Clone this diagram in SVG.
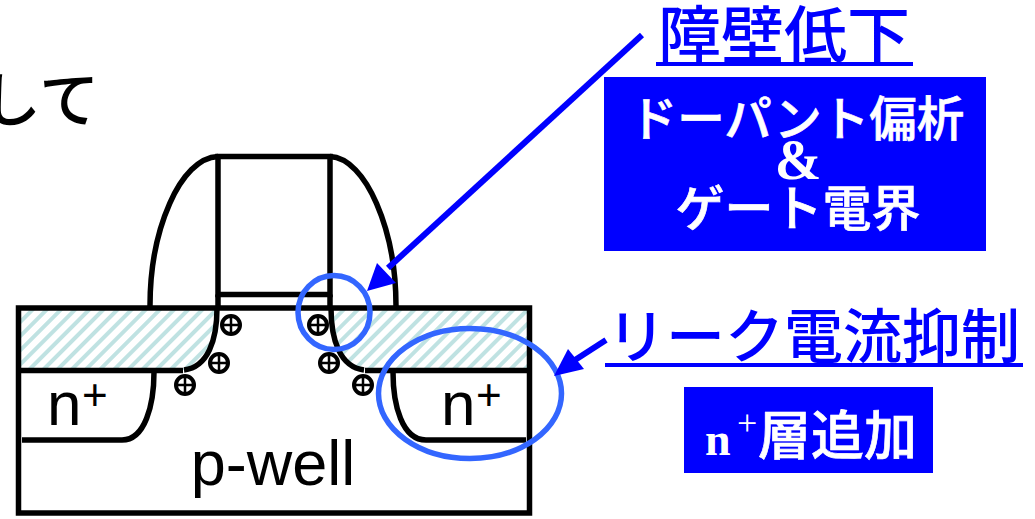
<svg xmlns="http://www.w3.org/2000/svg" width="1035" height="519" viewBox="0 0 1035 519">
<defs>
<style>
.k{fill:none;stroke:#000;stroke-width:5.500}
.b{fill:none;stroke:#3366ff;stroke-width:5.500}
.a{fill:none;stroke:#0000ff;stroke-width:6}
.u{stroke:#0000ff;stroke-width:4;fill:none}
.h{fill:#0000ff}
.t{font-family:"Liberation Sans","Noto Sans CJK JP",sans-serif}
.j{font-family:"Noto Sans CJK JP",sans-serif}
.w{font-weight:500;fill:#fff;stroke:#fff;stroke-width:0.700}
.s{font-family:"Liberation Serif",serif;font-weight:700}
.c{fill:none;stroke:#000;stroke-width:4}
.p{stroke:#000;stroke-width:2.500}
</style>
<pattern id="hatch" width="10" height="10" patternUnits="userSpaceOnUse" patternTransform="rotate(45)">
<rect width="10" height="10" fill="#fff"/>
<rect width="4" height="10" fill="#bfe2e2"/>
</pattern>
<g id="plus"><circle r="9" class="c"/><path d="M-9 0H9M0-9V9" class="p"/></g>
</defs>
<text x="-19" y="122" class="j" font-size="60" font-weight="500" fill="#000">して</text>
<g id="regions">
<path d="M21 310H216C216 340 208 368 183 370H21Z" fill="url(#hatch)"/>
<path d="M331 310H527V368H365C345 368 331 340 331 310Z" fill="url(#hatch)"/>
</g>
<g id="mosfet">
<rect x="18.500" y="308" width="511" height="205" class="k"/>
<path d="M18 370.500H183M365 370.500H530" class="k"/>
<path d="M217 308C217 340 208 367 184 370" class="k"/>
<path d="M331 308C331 340 340 367 364 370" class="k"/>
<path d="M154 372C154 405 145 440 122 440H22" class="k"/>
<path d="M393 372C393 405 402 440 426 440H526" class="k"/>
</g>
<g id="gate">
<rect x="218" y="156.500" width="112" height="138" class="k"/>
<path d="M218 294.500V308M330 294.500V308" class="k"/>
<path d="M150 306C150 230 180 158 218 156.500" class="k"/>
<path d="M396 306C396 230 366 158 330 156.500" class="k"/>
</g>
<g id="holes">
<use href="#plus" x="231" y="325"/>
<use href="#plus" x="219" y="363"/>
<use href="#plus" x="185" y="385"/>
<use href="#plus" x="318" y="325"/>
<use href="#plus" x="329" y="363"/>
<use href="#plus" x="363" y="385"/>
</g>
<g id="labels-device">
<text x="47" y="425" class="t" font-size="62">n</text>
<text x="82" y="410" class="t" font-size="44">+</text>
<text x="441" y="425" class="t" font-size="62">n</text>
<text x="476" y="410" class="t" font-size="44">+</text>
<text x="273" y="485" class="t" font-size="63" text-anchor="middle">p-well</text>
</g>
<g id="connectors">
<ellipse cx="334" cy="312.500" rx="36" ry="37" class="b"/>
<ellipse cx="470" cy="393.500" rx="91.500" ry="65" class="b"/>
<path d="M642 35L388 268" class="a"/>
<path class="h" d="M367 291L377 263L396 283Z"/>
<path d="M606 340L575 360" class="a"/>
<path class="h" d="M554 376L568 349L584 369Z"/>
</g>
<g id="barrier">
<text x="784" y="58" class="j" font-size="63" font-weight="500" fill="#0000ff" text-anchor="middle">障壁低下</text>
<path d="M656 64H913" class="u"/>
<rect x="604" y="77" width="382" height="174" class="h"/>
<text x="797" y="136" class="j w" font-size="47.500" text-anchor="middle">ドーパント偏析</text>
<text x="798" y="179" class="s" font-size="56" fill="#fff" text-anchor="middle">&amp;</text>
<text x="798" y="226" class="j w" font-size="49" text-anchor="middle">ゲート電界</text>
</g>
<g id="leak">
<text x="813.500" y="358" class="j" font-size="59" font-weight="500" fill="#0000ff" text-anchor="middle">リーク電流抑制</text>
<path d="M605 365H1023" class="u"/>
<rect x="684" y="387" width="249" height="86" class="h"/>
<text x="705" y="455" class="s" font-size="46" fill="#fff">n</text>
<text x="737" y="435" font-family="Liberation Serif,serif" font-size="36" fill="#fff">+</text>
<text x="758" y="455" class="j w" font-size="53">層追加</text>
</g>
</svg>
